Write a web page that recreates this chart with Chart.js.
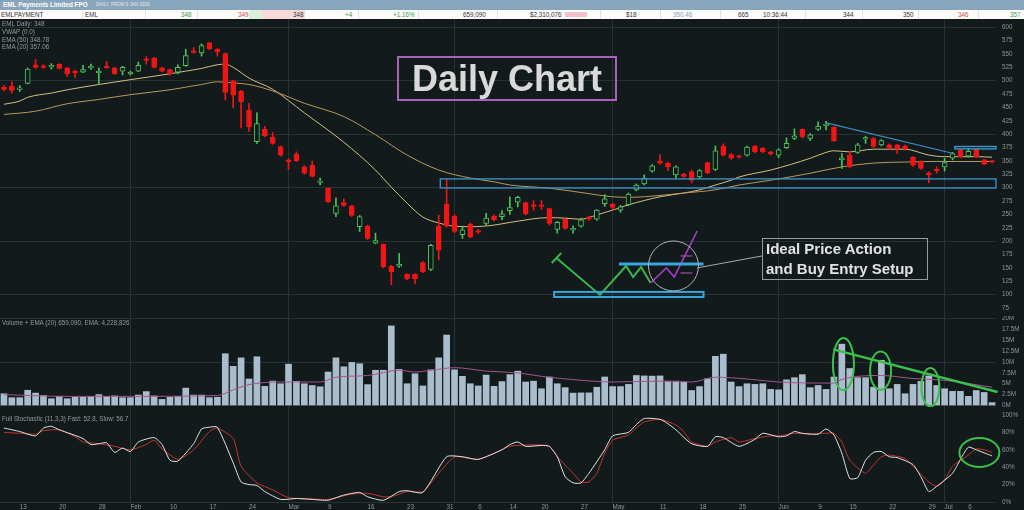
<!DOCTYPE html>
<html lang="en"><head><meta charset="utf-8"><title>EML Payments Daily Chart</title>
<script src="https://cdn.jsdelivr.net/npm/chart.js@4.4.1/dist/chart.umd.min.js"></script>
<style>
*{box-sizing:border-box}
html,body{margin:0;padding:0;width:1024px;height:510px;overflow:hidden;background:#131a1c;font-family:"Liberation Sans",Arial,sans-serif;}
.abs{position:absolute;white-space:nowrap}
canvas{position:absolute;left:0}
#bar1{left:0;top:0;width:1024px;height:10px;background:#88a5bb}
#bar2{left:0;top:10px;width:1024px;height:9px;background:#fbfbfb}
.q{top:10px;font-size:6.3px;line-height:9px;color:#333}
.sep{top:10px;width:1px;height:9px;background:#e2e2e2}
.lg{font-size:6.3px;color:#8f999b;left:2px;line-height:8px}
#daily{left:397px;top:56px;width:220px;height:45px;border:2px solid #a862b8;color:#d9d9d9;font-weight:bold;font-size:36px;line-height:41px;text-align:center}
#ideal{left:762px;top:238px;width:166px;height:42px;border:1px solid #9a9a9a;color:#e2e2e2;font-weight:bold;font-size:15px;line-height:20px;padding-left:3px}
</style></head><body>
<div id="bar1" class="abs"></div>
<div class="abs" style="left:3px;top:0;font-size:6.4px;line-height:10px;font-weight:bold;color:#fff">EML Payments Limited FPO</div>
<div class="abs" style="left:96px;top:0;font-size:4.6px;line-height:10px;color:#e4ecf2">DAILY, FROM 9 JAN 2020</div>
<div id="bar2" class="abs"></div>
<div class="abs" style="left:249px;top:10px;width:13px;height:9px;background:#d9f1d9"></div>
<div class="abs" style="left:262px;top:10px;width:43px;height:9px;background:#f9dada"></div>
<div class="abs" style="left:565px;top:12px;width:22px;height:5px;background:#f2c0c8"></div>
<div class="abs sep" style="left:82px"></div><div class="abs sep" style="left:145px"></div>
<div class="abs sep" style="left:197px"></div><div class="abs sep" style="left:358px"></div>
<div class="abs sep" style="left:418px"></div><div class="abs sep" style="left:497px"></div>
<div class="abs sep" style="left:600px"></div><div class="abs sep" style="left:660px"></div>
<div class="abs sep" style="left:720px"></div><div class="abs sep" style="left:805px"></div>
<div class="abs sep" style="left:862px"></div><div class="abs sep" style="left:918px"></div>
<div class="abs sep" style="left:978px"></div>
<div class="abs q" style="left:1px">EMLPAYMENT</div>
<div class="abs q" style="left:85px">EML</div>
<div class="abs q" style="left:181px;color:#3f9d46">348</div>
<div class="abs q" style="left:238px;color:#d04848">349</div>
<div class="abs q" style="left:293px">348</div>
<div class="abs q" style="left:345px;color:#3f9d46">+4</div>
<div class="abs q" style="left:393px;color:#3f9d46">+1.16%</div>
<div class="abs q" style="left:463px">659,090</div>
<div class="abs q" style="left:530px">$2,310,076</div>
<div class="abs q" style="left:626px">$18</div>
<div class="abs q" style="left:673px;color:#8aa0a8">350.46</div>
<div class="abs q" style="left:738px">665</div>
<div class="abs q" style="left:763px">10:36:44</div>
<div class="abs q" style="left:843px">344</div>
<div class="abs q" style="left:903px">350</div>
<div class="abs q" style="left:958px;color:#d04848">346</div>
<div class="abs q" style="left:1010px;color:#3f9d46">357</div>

<canvas id="cp" width="1024" height="297" style="top:19px"></canvas>
<canvas id="cv" width="1024" height="91" style="top:316px"></canvas>
<canvas id="cs" width="1024" height="103" style="top:407px"></canvas>

<div class="abs lg" style="top:20px">EML Daily: 348</div>
<div class="abs lg" style="top:28px">VWAP (0.0)</div>
<div class="abs lg" style="top:35.5px">EMA (50) 348.78</div>
<div class="abs lg" style="top:43px">EMA (20) 357.06</div>
<div class="abs lg" style="top:319px">Volume + EMA (20) 659,090, EMA: 4,228,826</div>
<div class="abs lg" style="top:415px">Full Stochastic (11,3,3) Fast: 52.8, Slow: 56.7</div>
<div id="daily" class="abs">Daily Chart</div>
<div id="ideal" class="abs">Ideal Price Action<br>and Buy Entry Setup</div>

<script>
// ---------------- DATA ----------------
const opens = [488,490,484,495,530,528,526,531,524,517,516,524,515,526,524,518,513,518,540,543,
524,521,516,528,555,552,571,559,551,500,480,445,386,409,394,377,352,363,339,342,
310,299,252,272,266,227,228,196,194,153,153,138,138,160,147,228,270,247,212,232,
219,233,247,246,257,273,272,267,267,261,222,241,221,228,245,241,270,269,258,268,
296,307,331,350,346,324,325,330,320,347,334,378,362,359,361,378,374,367,361,375,
392,409,392,409,416,413,352,361,366,391,392,380,380,380,378,357,349,328,334,339,
355,371,359,372,352,349];
const highs = [491,498,491,524,540,530,532,532,525,520,529,531,524,536,525,527,518,535,545,544,
525,522,530,559,562,569,572,560,552,501,482,458,440,415,403,378,354,367,341,350,
318,300,281,279,267,248,230,215,195,155,177,139,139,162,194,249,316,249,228,234,
222,252,249,257,283,284,273,276,276,262,237,242,228,243,247,259,287,271,267,290,
307,324,343,362,348,341,327,333,334,348,378,382,364,361,378,379,375,368,373,393,
410,410,401,423,424,414,364,368,383,396,394,390,382,381,380,358,350,330,339,355,
366,373,373,373,353,350];
const lows = [481,477,480,494,523,523,522,522,508,506,515,521,493,523,512,511,511,517,531,524,
517,510,513,527,551,546,558,546,464,449,412,405,383,395,381,359,334,349,325,320,
305,272,246,265,246,218,203,195,150,118,151,128,120,141,145,165,226,216,205,206,
214,231,238,240,250,264,249,258,259,230,215,222,215,226,239,239,265,258,254,266,
294,305,329,344,332,318,319,309,318,326,332,359,353,355,359,365,365,361,356,373,
390,393,388,407,408,386,336,337,364,383,375,378,372,364,370,340,334,309,327,331,
352,356,357,356,343,346];
const closes = [484,482,486,522,525,525,528,523,513,515,521,526,517,524,513,525,516,529,538,525,
518,513,525,547,553,566,560,554,478,473,461,414,420,397,383,361,348,350,327,321,
312,274,266,267,248,246,205,201,152,143,157,130,130,143,192,183,228,218,221,208,
217,243,240,251,263,282,251,265,265,233,235,224,223,240,241,258,279,263,264,288,
305,318,341,346,339,339,321,314,332,328,369,361,355,357,376,367,367,363,371,383,
397,395,399,415,418,388,356,339,380,393,377,388,374,372,372,342,336,324,332,347,
364,358,368,358,344,348];
// volume in millions
const volumes = [2.7,1.8,1.8,3.5,2.85,2.3,1.55,2.1,1.55,1.9,
1.9,2.1,2.5,2.1,2.2,1.8,1.8,2.4,3.2,2.2,
1.4,1.9,2.1,4.0,2.4,2.4,1.8,1.9,11.9,9.0,
10.95,6.1,11.2,4.4,5.6,5.0,9.5,5.55,5.0,4.6,
4.3,7.7,10.95,8.9,9.9,9.6,4.8,8.1,8.1,18.3,
8.3,5.0,7.3,4.5,8.2,10.95,16.2,8.2,6.7,5.0,
4.5,7.0,4.4,5.5,7.1,7.9,5.4,5.6,3.85,6.55,
5.0,4.1,2.85,2.9,2.9,4.2,6.55,4.35,4.35,4.85,
6.9,6.8,6.75,6.8,5.6,5.6,5.4,3.45,4.35,6.15,
11.3,11.8,5.4,4.35,5.0,4.85,5.0,3.7,3.6,5.9,
6.4,7.1,4.1,4.6,3.7,6.55,14.1,8.5,6.4,6.4,
4.2,10.4,3.85,4.85,2.7,4.85,5.55,6.8,4.6,3.85,
3.25,3.25,2.1,3.45,3.0,0.66];

// indicator lines at these bar indices
const ema20Idx = [0,2,3,6,8,12,16,21,23,25,27,28,29,31,34,38,43,47,49,51,53,55,57,59,62,64,69,71,73,75,77,79,81,83,86,88,90,92,93,97,102,104,105,107,110,114,117,119,123,125];
const ema20Val = [456,462,469,477,483,493,502,513,518,523,530,531,525,505,484,440,385,333,301,271,245,234,228,227,230,235,244,243,241,249,258,268,276,283,290,296,305,314,320,333,355,366,369,367,372,372,361,358,358,357];
const ema50Idx = [0,4,8,12,16,21,23,25,27,29,31,34,38,43,47,51,55,59,62,64,69,73,77,79,81,86,90,93,97,102,106,110,114,118,125];
const ema50Val = [437,443,457,465,474,483,488,493,498,496,493,481,458,433,399,361,333,318,311,305,299,291,283,282,283,290,296,305,314,327,339,346,348,349,349];
const volEmaIdx = [0,8,16,27,29,31,35,40,42,46,50,52,54,57,61,65,68,73,77,83,87,90,94,98,105,106,111,115,119,125];
const volEmaVal = [2.5,2.1,2.1,2.3,3.6,4.8,5.4,5.4,6.5,6.9,8.1,7.7,8.1,8.7,7.9,7.5,6.7,5.8,5.4,5.6,5.4,6.5,6.1,5.4,5.15,6.0,6.9,6.2,5.8,4.2];
const fastIdx = [0,2,4,5,6,7,10,11,12,13,14,15,16,17,19,20,21,22,24,25,26,27,29,30,31,32,33,35,37,39,41,43,45,46,48,50,51,53,56,58,60,63,64,65,66,68,69,70,71,72,73,74,76,77,79,80,81,83,84,85,87,89,90,91,93,95,96,98,99,100,101,103,104,105,106,107,108,109,110,111,112,113,115,116,117,118,120,121,122,123,125];
const fastVal = [85,81,76,85,87,83,73,66,67,68,57,62,58,69,74,66,48,47,67,84,86,86,45,23,20,19,12,3,4,3,2,8,11,6,2,12,13,11,52,52,49,60,66,69,64,65,64,52,29,22,22,33,60,76,80,89,96,95,90,83,67,64,75,74,64,72,79,75,76,81,79,78,84,77,56,27,28,48,57,58,52,51,43,29,12,18,33,49,63,60,53];
const slowIdx = [0,2,4,5,7,9,10,12,14,16,18,19,20,22,24,26,27,29,30,32,34,36,39,41,44,46,48,49,51,53,55,57,59,60,62,64,66,68,69,70,72,73,74,75,76,77,79,80,81,83,85,86,87,89,90,92,93,95,97,98,100,102,104,105,106,107,109,110,111,112,114,115,117,118,119,120,122,123,124,125];
const slowVal = [80,79,78,82,83,75,69,67,64,60,66,71,61,49,60,81,85,73,41,22,14,5,3.5,3,9,10,6,6,12,12,33,52,50,49,56,64,65.5,65.5,64,52,33,23,23,33,56,71,77,85,92,95,88.5,81,69,64,69,74,69,73,76,76,79,78,79,79,69,48,33,42.5,52,54,50,41,23,18,25,41,54,61,60,57];

// calendar / ticks
const firstDay = '2020-01-09';
const skipDays = ['2020-01-27','2020-03-30','2020-04-10','2020-04-13','2020-06-08'];
const xTickIdx = [2,7,12,16,21,26,31,36,41,46,51,56,60,64,68,73,77,83,88,93,98,103,107,112,117,119,122];
const xTickText = ['13','20','28','Feb','10','17','24','Mar','9','16','23','31','6','14','20','27','May','11','18','25','Jun','9','15','22','29','Jul','6'];
const monthStartIdx = [16,36,57,77,98,119];
const priceTicks = [75,100,125,150,175,200,225,250,275,300,325,350,375,400,425,450,475,500,525,550,575,600];
const volTicks = [0,2.5,5,7.5,10,12.5,15,17.5,20];
const stochTicks = [0,20,40,60,80,100];

// annotations (in bar-index / value units)
const zoneBox = {i0:55.2, p0:316.4, p1:299.5};
const rightBox = {i0:120.3, p0:377, p1:372.5};
const downTrend = [[103.9,421.6],[120.1,364]];
const greenCap = [[69.3,159.2],[70.5,177.9]];
const greenPath = [[69.9,168.5],[75.4,99.4],[78.7,153.6],[79.6,133],[80.6,151.8],[81.8,121.8]];
const purplePath = [[81.8,121.8],[83.8,150],[84.8,133],[87.7,219]];
const purpleMarks = [[[85.6,172.3],[87.1,172.3]],[[85.6,140.5],[87.1,140.5]]];
const resistLine = [[77.8,157.4],[88.5,157.4]];
const supportBox = {i0:69.6, i1:88.5, p0:105, p1:95.6};
const focusCircle = {i:84.7, v:153.6, ri:3.16};
const calloutLine = [[87.7,150],[95.9,172.3]];
const volEllipses = [{i:106.2,v:9.5,ri:1.33,rv:6.0},{i:110.9,v:8.0,ri:1.33,rv:4.4},{i:117.2,v:4.2,ri:1.14,rv:4.4}];
const volTrend = [[104.9,12.9],[125.7,3.1]];
const stochEllipse = {i:123.4,v:56.9,ri:2.53,rv:16.7};

// ---------------- BUILD ----------------
const N = opens.length;
const dates = [];
{
  const d = new Date(firstDay + 'T00:00:00Z');
  while (dates.length < N) {
    const s = d.toISOString().slice(0,10), wd = d.getUTCDay();
    if (wd !== 0 && wd !== 6 && !skipDays.includes(s)) dates.push(s);
    d.setUTCDate(d.getUTCDate() + 1);
  }
}
const sparse = (idx, val) => { const a = new Array(N).fill(null); idx.forEach((i,k) => { a[i] = val[k]; }); return a; };

const BG = '#131a1c', GRID = '#283234', TXT = '#8c9597', CLEAR = 'rgba(0,0,0,0)';
const UP = '#4cc25a', DOWN = '#f01616';
const FONT = {family:'Liberation Sans', size:6.3};

function xAxis(showLabels) {
  return {
    type:'category', offset:true,
    grid:{offset:false, drawTicks:false, color: c => monthStartIdx.includes(c.index) ? GRID : CLEAR},
    border:{display:false},
    ticks:{display:showLabels, autoSkip:false, maxRotation:0, minRotation:0, align:'start', padding:1,
      color:TXT, font:FONT,
      callback:(v,i) => { const k = xTickIdx.indexOf(i); return k >= 0 ? xTickText[k] : ''; }},
    afterFit: s => { s.height = showLabels ? 8 : 0; s.paddingLeft = 0; s.paddingRight = 0; }
  };
}
function yAxis(min, max, vals, fmt, gridTest) {
  return {
    position:'right', min, max,
    afterBuildTicks: s => { s.ticks = vals.map(v => ({value:v})); },
    afterFit: s => { s.width = 28; s.paddingTop = 0; s.paddingBottom = 0; },
    grid:{drawTicks:false, color: c => (c.tick && gridTest(c.tick.value)) ? GRID : CLEAR},
    border:{display:false},
    ticks:{autoSkip:false, padding:6, color:TXT, font:FONT, callback: v => fmt(v)}
  };
}
function P(chart, i, v) { return [chart.scales.x.getPixelForValue(i), chart.scales.y.getPixelForValue(v)]; }
function poly(ctx, chart, pts, color, w) {
  ctx.beginPath();
  pts.forEach((p,k) => { const [x,y] = P(chart,p[0],p[1]); k ? ctx.lineTo(x,y) : ctx.moveTo(x,y); });
  ctx.strokeStyle = color; ctx.lineWidth = w; ctx.lineJoin = 'miter'; ctx.stroke();
}
function ell(ctx, chart, e, color, w) {
  const [cx,cy] = P(chart,e.i,e.v);
  const rx = Math.abs(P(chart,e.i+e.ri,e.v)[0]-cx), ry = Math.abs(P(chart,e.i,e.v+e.rv)[1]-cy);
  ctx.beginPath(); ctx.ellipse(cx,cy,rx,ry,0,0,Math.PI*2);
  ctx.strokeStyle = color; ctx.lineWidth = w; ctx.stroke();
}
function boxToRight(ctx, chart, b, color, w) {
  const [x0,y0] = P(chart,b.i0,b.p0); const y1 = P(chart,b.i0,b.p1)[1];
  ctx.strokeStyle = color; ctx.lineWidth = w;
  ctx.strokeRect(x0, y0, chart.chartArea.right - x0, y1 - y0);
}

const priceAnnot = {id:'priceAnnot', afterDatasetsDraw(chart) {
  const ctx = chart.ctx; ctx.save();
  boxToRight(ctx, chart, zoneBox, '#3a8ec2', 1.4);
  boxToRight(ctx, chart, rightBox, '#3f97cc', 1.4);
  poly(ctx, chart, downTrend, '#3a8ec2', 1.2);
  poly(ctx, chart, greenCap, '#3bb54b', 2);
  poly(ctx, chart, greenPath, '#3bb54b', 2);
  poly(ctx, chart, purplePath, '#a43cc4', 1.6);
  purpleMarks.forEach(m => poly(ctx, chart, m, '#a0509e', 1.2));
  poly(ctx, chart, resistLine, '#36a6de', 3);
  const [bx0,by0] = P(chart,supportBox.i0,supportBox.p0), [bx1,by1] = P(chart,supportBox.i1,supportBox.p1);
  ctx.strokeStyle = '#36a6de'; ctx.lineWidth = 2; ctx.strokeRect(bx0,by0,bx1-bx0,by1-by0);
  const [cx,cy] = P(chart,focusCircle.i,focusCircle.v);
  const r = Math.abs(P(chart,focusCircle.i+focusCircle.ri,focusCircle.v)[0]-cx);
  ctx.beginPath(); ctx.arc(cx,cy,r,0,Math.PI*2); ctx.strokeStyle='#b2b2b2'; ctx.lineWidth=1; ctx.stroke();
  poly(ctx, chart, calloutLine, '#a8a8a8', 1);
  ctx.restore();
}};
const volAnnot = {id:'volAnnot', afterDatasetsDraw(chart) {
  const ctx = chart.ctx; ctx.save();
  volEllipses.forEach(e => ell(ctx, chart, e, '#3cbf4c', 2));
  poly(ctx, chart, volTrend, '#3cbf4c', 2.5);
  ctx.restore();
}};
const stochAnnot = {id:'stochAnnot', afterDatasetsDraw(chart) {
  const ctx = chart.ctx; ctx.save();
  ell(ctx, chart, stochEllipse, '#3cbf4c', 2);
  ctx.restore();
}};

const common = {responsive:false, animation:false, events:[],
  layout:{padding:0}, plugins:{legend:{display:false}, tooltip:{enabled:false}}};

const isUp = opens.map((o,i) => closes[i] >= o);

new Chart(document.getElementById('cp'), {
  type:'bar',
  data:{labels:dates, datasets:[
    {type:'line', label:'EMA (20)', data:sparse(ema20Idx, ema20Val), borderColor:'#d3c184', borderWidth:1,
      pointRadius:0, spanGaps:true, cubicInterpolationMode:'monotone', order:4},
    {type:'line', label:'EMA (50)', data:sparse(ema50Idx, ema50Val), borderColor:'#b69a5e', borderWidth:1,
      pointRadius:0, spanGaps:true, cubicInterpolationMode:'monotone', order:3},
    {label:'wick', data:lows.map((l,i) => [l, highs[i]]), backgroundColor:isUp.map(u => u ? UP : DOWN),
      barThickness:1, grouped:false, order:2},
    {label:'body', data:opens.map((o,i) => [o, closes[i]]), backgroundColor:isUp.map(u => u ? BG : DOWN),
      borderColor:isUp.map(u => u ? UP : DOWN), borderWidth:1, borderSkipped:false,
      barThickness:5, minBarLength:1.5, grouped:false, order:1}
  ]},
  options:{...common, scales:{
    x:xAxis(false),
    y:yAxis(60.0, 615.5, priceTicks, v => String(v), v => v % 100 === 0)
  }},
  plugins:[priceAnnot]
});

new Chart(document.getElementById('cv'), {
  type:'bar',
  data:{labels:dates, datasets:[
    {type:'line', label:'Volume EMA (20)', data:sparse(volEmaIdx, volEmaVal), borderColor:'#a4548e', borderWidth:1,
      pointRadius:0, spanGaps:true, cubicInterpolationMode:'monotone', order:0},
    {label:'Volume', data:volumes, backgroundColor:'#a9bdcc', barThickness:6, grouped:false, order:1}
  ]},
  options:{...common, scales:{
    x:xAxis(false),
    y:yAxis(-0.345, 20.575, volTicks, v => v + 'M', v => v === 0 || v === 10 || v === 20)
  }},
  plugins:[volAnnot]
});

new Chart(document.getElementById('cs'), {
  type:'line',
  data:{labels:dates, datasets:[
    {label:'Slow', data:sparse(slowIdx, slowVal), borderColor:'#c73434', borderWidth:1, pointRadius:0, spanGaps:true, tension:0.2, order:1},
    {label:'Fast', data:sparse(fastIdx, fastVal), borderColor:'#e4e4e4', borderWidth:1, pointRadius:0, spanGaps:true, tension:0.2, order:0}
  ]},
  options:{...common, scales:{
    x:xAxis(true),
    y:yAxis(0, 109.2, stochTicks, v => v + '%', v => v === 0)
  }},
  plugins:[stochAnnot]
});
</script>
</body></html>
